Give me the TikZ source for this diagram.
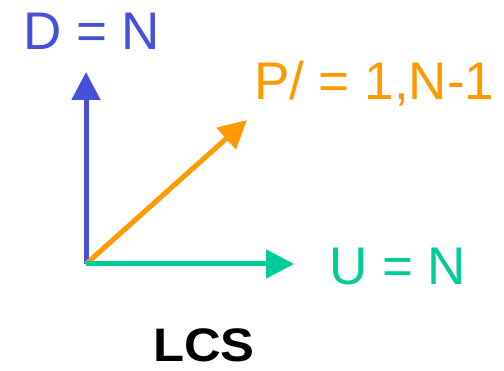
\documentclass[tikz,border=0pt]{standalone}
\usepackage{fontspec}
\setmainfont{Liberation Sans}
\usetikzlibrary{arrows.meta}
\definecolor{dblue}{HTML}{4750D9}
\definecolor{porange}{HTML}{FF9900}
\definecolor{ugreen}{HTML}{00CC99}
\tikzset{
  vec/.style={line width=5pt,-{Triangle[length=28pt,width=28pt]}},
  lbl/.style={anchor=base west,inner sep=0pt,font=\fontsize{53}{60}\selectfont},
}
\begin{document}
\begin{tikzpicture}[x=1pt,y=-1pt]
\useasboundingbox (0,0) rectangle (504,371);
\coordinate (O) at (86,264);
\coordinate (Dt) at (86,72);
\coordinate (Pt) at (247,120);
\coordinate (Ut) at (294,264);
\draw[vec,dblue] (O) -- (Dt);
\draw[vec,porange] (O) -- (Pt);
\draw[vec,ugreen] (O) -- (Ut);
\node[lbl,text=dblue] (D) at (23,50) {D = N};
\node[lbl,text=porange] (P) at (254,100) {P/ = 1,N-1};
\node[lbl,text=ugreen] (U) at (329,285) {U = N};
\node[anchor=base west,inner sep=0pt,text depth=0pt,xscale=1.08,font=\fontsize{47}{54}\selectfont\bfseries] (L) at (153,362) {LCS};
\end{tikzpicture}
\end{document}
